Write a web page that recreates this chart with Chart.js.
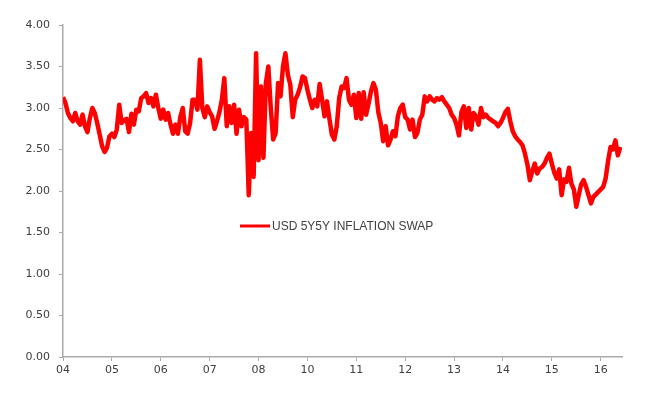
<!DOCTYPE html>
<html>
<head>
<meta charset="utf-8">
<script src="https://cdn.jsdelivr.net/npm/chart.js@4"></script>
<style>
  html, body { margin: 0; padding: 0; background: #fff; }
  #wrap { width: 657px; height: 401px; position: relative; }
</style>
</head>
<body>
<div id="wrap"><canvas id="swapChart"></canvas></div>
<script>
const RED  = '#ff0000';
const AXIS = '#aaaaaa';
const TXT  = '#404040';

const SERIES_LABEL = 'USD 5Y5Y INFLATION SWAP';

// year labels, one every 20 observations (Excel skipped 09)
const YEAR_LABELS = ['04', '05', '06', '07', '08', '10', '11', '12', '13', '14', '15', '16'];
const PER_LABEL = 20;

const SWAP = [
  3.13, 3.06, 2.94, 2.88, 2.84, 2.94, 2.84, 2.80, 2.92, 2.78,
  2.71, 2.88, 3.00, 2.94, 2.82, 2.68, 2.54, 2.47, 2.52, 2.66,
  2.69, 2.65, 2.74, 3.04, 2.82, 2.85, 2.87, 2.71, 2.93, 2.80,
  2.98, 2.96, 3.12, 3.14, 3.18, 3.06, 3.12, 3.02, 3.16, 3.00,
  2.87, 2.98, 2.86, 2.94, 2.80, 2.69, 2.80, 2.69, 2.89, 3.00,
  2.72, 2.69, 2.82, 3.10, 3.10, 2.98, 3.58, 3.00, 2.89, 3.02,
  2.95, 2.90, 2.75, 2.84, 2.95, 3.10, 3.36, 2.78, 3.02, 2.82,
  3.04, 2.69, 2.98, 2.78, 2.89, 2.86, 1.95, 2.70, 2.17, 3.66,
  2.37, 3.26, 2.40, 3.30, 3.50, 3.00, 2.62, 2.70, 3.30, 3.14,
  3.50, 3.66, 3.40, 3.28, 2.89, 3.10, 3.16, 3.25, 3.38, 3.36,
  3.22, 3.10, 3.00, 3.10, 3.02, 3.29, 3.10, 2.90, 3.08, 2.87,
  2.68, 2.62, 2.78, 3.12, 3.26, 3.24, 3.36, 3.10, 3.04, 3.16,
  2.88, 3.18, 2.87, 3.19, 2.92, 3.05, 3.20, 3.30, 3.22, 2.95,
  2.82, 2.60, 2.78, 2.55, 2.62, 2.72, 2.66, 2.90, 3.00, 3.04,
  2.89, 2.86, 2.74, 2.86, 2.65, 2.70, 2.86, 2.92, 3.14, 3.08,
  3.14, 3.10, 3.08, 3.12, 3.10, 3.13, 3.08, 3.04, 3.00, 2.92,
  2.88, 2.80, 2.67, 2.95, 3.02, 2.76, 3.00, 2.74, 2.94, 2.90,
  2.80, 3.00, 2.89, 2.92, 2.88, 2.86, 2.84, 2.82, 2.78, 2.82,
  2.88, 2.95, 2.99, 2.84, 2.72, 2.66, 2.62, 2.59, 2.55, 2.45,
  2.32, 2.13, 2.24, 2.33, 2.21, 2.27, 2.29, 2.33, 2.40, 2.45,
  2.33, 2.22, 2.15, 2.26, 1.95, 2.14, 2.11, 2.28, 2.09, 2.02,
  1.81, 1.95, 2.08, 2.13, 2.05, 1.95, 1.85, 1.93, 1.96, 1.99,
  2.02, 2.05, 2.15, 2.36, 2.53, 2.50, 2.61, 2.43, 2.53
];

const Y_MIN = 0, Y_MAX = 4, Y_STEP = 0.5;

// legend sits inside the plot, Excel style
const insideLegend = {
  id: 'insideLegend',
  afterDatasetsDraw(chart) {
    const { ctx, chartArea } = chart;
    const ds = chart.data.datasets[0];
    const x = chartArea.left + 177;
    const y = chartArea.top + 201;
    ctx.save();
    ctx.strokeStyle = ds.borderColor;
    ctx.lineWidth = 3;
    ctx.beginPath();
    ctx.moveTo(x, y);
    ctx.lineTo(x + 30, y);
    ctx.stroke();
    ctx.fillStyle = TXT;
    ctx.font = '12px "Liberation Sans", Arial, sans-serif';
    ctx.textBaseline = 'middle';
    ctx.fillText(ds.label, x + 32, y + 1);
    ctx.restore();
  }
};

new Chart('swapChart', {
  type: 'line',
  data: {
    datasets: [{
      label: SERIES_LABEL,
      data: SWAP.map((v, i) => ({ x: i, y: v })),
      borderColor: RED,
      borderWidth: 4.5,
      borderJoinStyle: 'round',
      pointRadius: 0,
      tension: 0,
      fill: false
    }]
  },
  options: {
    responsive: true,
    maintainAspectRatio: false,
    animation: false,
    layout: { padding: { top: 25, right: 35, bottom: 0, left: 0 } },
    plugins: { legend: { display: false }, tooltip: { enabled: false } },
    scales: {
      x: {
        type: 'linear',
        min: 0,
        max: 228.7,
        afterBuildTicks(scale) {
          scale.ticks = YEAR_LABELS.map((_, i) => ({ value: i * PER_LABEL }));
        },
        afterFit(scale) { scale.height = 44; },
        grid: { drawOnChartArea: false, color: AXIS, tickLength: 4, tickColor: AXIS },
        border: { color: AXIS, width: 1.5 },
        ticks: {
          autoSkip: false,
          maxRotation: 0,
          padding: 3,
          color: TXT,
          font: { family: 'DejaVu Sans', size: 11 },
          callback: (v) => YEAR_LABELS[Math.round(v / PER_LABEL)]
        }
      },
      y: {
        min: Y_MIN,
        max: Y_MAX,
        afterFit(scale) { scale.width = 63; },
        grid: { drawOnChartArea: false, color: AXIS, tickLength: 4, tickColor: AXIS },
        border: { color: AXIS, width: 1.5 },
        ticks: {
          stepSize: Y_STEP,
          padding: 9,
          color: TXT,
          font: { family: 'DejaVu Sans', size: 11 },
          callback: (v) => v.toFixed(2)
        }
      }
    }
  },
  plugins: [insideLegend]
});
</script>
</body>
</html>
